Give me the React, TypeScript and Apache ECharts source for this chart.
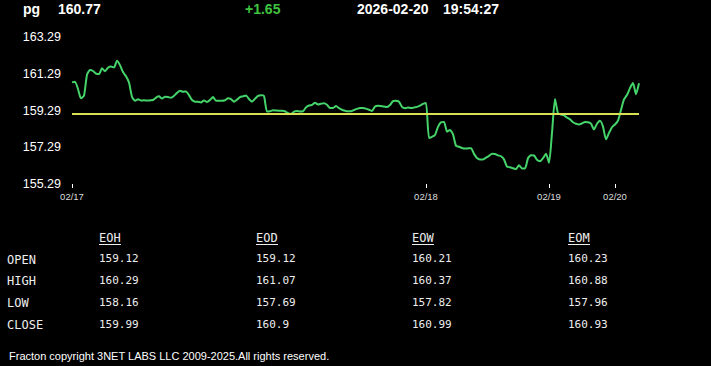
import React, { useEffect, useRef } from 'react';
import * as echarts from 'echarts';

const symbolText = 'pg';
const lastPriceText = '160.77';
const changeText = '+1.65';
const dateText = '2026-02-20';
const timeText = '19:54:27';
const refLevel = 159.12;

const yMin = 155.29;
const yMax = 163.29;
const yStep = 2;

const tickIndices = [0, 118, 159, 181];
const tickLabels = ['02/17', '02/18', '02/19', '02/20'];

const prices = [
  160.82, 160.86, 160.46, 159.95, 160.10, 161.24, 161.49, 161.44, 161.30, 161.27,
  161.59, 161.43, 161.62, 161.68, 161.63, 162.00, 161.76, 161.38, 161.15, 160.81,
  160.04, 159.82, 159.90, 159.83, 159.85, 159.83, 159.84, 159.86, 159.99, 160.06,
  159.94, 160.04, 160.02, 159.98, 160.09, 160.25, 160.36, 160.31, 160.33, 160.13,
  159.86, 159.77, 159.76, 159.73, 159.84, 159.75, 159.86, 160.02, 159.82, 159.82,
  159.82, 159.85, 159.95, 159.91, 159.77, 159.88, 160.02, 160.06, 160.11, 159.91,
  159.77, 159.93, 160.08, 160.12, 160.08, 159.23, 159.25, 159.30, 159.29, 159.28,
  159.28, 159.25, 159.14, 159.10, 159.23, 159.26, 159.24, 159.25, 159.46, 159.56,
  159.60, 159.71, 159.62, 159.66, 159.69, 159.60, 159.43, 159.43, 159.53, 159.42,
  159.33, 159.28, 159.25, 159.25, 159.32, 159.38, 159.43, 159.43, 159.39, 159.33,
  159.26, 159.51, 159.55, 159.53, 159.51, 159.48, 159.59, 159.80, 159.82, 159.77,
  159.49, 159.41, 159.46, 159.42, 159.45, 159.49, 159.56, 159.65, 159.70, 157.80,
  157.86, 157.96, 158.40, 158.65, 158.67, 158.14, 158.23, 157.99, 157.37, 157.32,
  157.25, 157.22, 157.23, 157.24, 156.93, 156.70, 156.63, 156.63, 156.72, 156.82,
  156.93, 156.92, 156.85, 156.80, 156.63, 156.24, 156.20, 156.15, 156.10, 156.31,
  156.14, 156.14, 156.69, 156.85, 156.84, 156.61, 156.53, 156.70, 156.93, 156.44,
  158.07, 159.91, 159.14, 159.07, 159.02, 158.91, 158.81, 158.65, 158.57, 158.53,
  158.59, 158.67, 158.65, 158.57, 158.26, 158.57, 158.73, 158.41, 157.72, 158.07,
  158.38, 158.53, 158.74, 159.32, 159.89, 160.13, 160.51, 160.78, 160.18, 160.77,
];

const tableCols = ['EOH', 'EOD', 'EOW', 'EOM'];
const tableRows = ['OPEN', 'HIGH', 'LOW', 'CLOSE'];
const eohValues = ['159.12', '160.29', '158.16', '159.99'];
const eodValues = ['159.12', '161.07', '157.69', '160.9'];
const eowValues = ['160.21', '160.37', '157.82', '160.99'];
const eomValues = ['160.23', '160.88', '157.96', '160.93'];
const tableValues = [eohValues, eodValues, eowValues, eomValues];

const footerText = 'Fracton copyright 3NET LABS LLC 2009-2025.All rights reserved.';

const W = 711;
const H = 366;

export default function App() {
  const ref = useRef<HTMLDivElement>(null);

  useEffect(() => {
    document.body.style.margin = '0';
    document.body.style.background = '#000';
    if (!ref.current) return;
    const chart = echarts.init(ref.current, undefined, { renderer: 'svg' });

    const categories = prices.map((_, i) => String(i));
    const tickSet = new Set(tickIndices);
    const labelAt: Record<number, string> = {};
    tickIndices.forEach((ti, k) => (labelAt[ti] = tickLabels[k]));

    const headerFont = 'bold 14px "Liberation Sans", Arial, sans-serif';
    const monoLabel = '12px "DejaVu Sans Mono", monospace';
    const monoValue = '11px "DejaVu Sans Mono", monospace';

    const colX = [99, 256, 412, 568];
    const headerY = 238;
    const rowLabelY = [259.5, 281, 303, 325];
    const rowValueY = [258, 280, 302, 324];

    const graphic: any[] = [
      { type: 'text', x: 23, y: 9, style: { text: symbolText, font: headerFont, fill: '#fff', verticalAlign: 'middle' } },
      { type: 'text', x: 58, y: 9, style: { text: lastPriceText, font: headerFont, fill: '#fff', verticalAlign: 'middle' } },
      { type: 'text', x: 245, y: 9, style: { text: changeText, font: headerFont, fill: '#3fc43f', verticalAlign: 'middle' } },
      { type: 'text', x: 357, y: 9, style: { text: dateText, font: headerFont, fill: '#fff', verticalAlign: 'middle' } },
      { type: 'text', x: 443, y: 9, style: { text: timeText, font: headerFont, fill: '#fff', verticalAlign: 'middle' } },
    ];

    tableCols.forEach((c, ci) => {
      graphic.push({ type: 'text', x: colX[ci], y: headerY, style: { text: c, font: monoLabel, fill: '#eee', verticalAlign: 'middle' } });
      graphic.push({ type: 'line', shape: { x1: colX[ci], y1: 244.5, x2: colX[ci] + 22, y2: 244.5 }, style: { stroke: '#eee', lineWidth: 1 } });
      tableValues[ci].forEach((v, ri) => {
        graphic.push({ type: 'text', x: colX[ci], y: rowValueY[ri], style: { text: v, font: monoValue, fill: '#eee', verticalAlign: 'middle' } });
      });
    });
    tableRows.forEach((r, ri) => {
      graphic.push({ type: 'text', x: 7, y: rowLabelY[ri], style: { text: r, font: monoLabel, fill: '#eee', verticalAlign: 'middle' } });
    });
    graphic.push({ type: 'text', x: 9, y: 355.5, style: { text: footerText, font: '11px "Liberation Sans", Arial, sans-serif', fill: '#fff', verticalAlign: 'middle' } });

    chart.setOption({
      animation: false,
      backgroundColor: '#000',
      grid: { left: 72, right: 72, top: 37, bottom: 182, containLabel: false },
      xAxis: {
        type: 'category',
        data: categories,
        boundaryGap: false,
        axisLine: { show: false },
        axisTick: {
          show: true,
          length: 4,
          interval: (idx: number) => tickSet.has(idx),
          lineStyle: { color: '#fff', width: 1 },
        },
        axisLabel: {
          show: true,
          interval: (idx: number) => tickSet.has(idx),
          formatter: (_v: string, idx: number) => labelAt[idx] || '',
          color: '#ddd',
          fontSize: 9.5,
          fontFamily: '"Liberation Sans", Arial, sans-serif',
          margin: 7,
        },
        splitLine: { show: false },
      },
      yAxis: {
        type: 'value',
        min: yMin,
        max: yMax,
        interval: yStep,
        axisLine: { show: false },
        axisTick: { show: false },
        splitLine: { show: false },
        axisLabel: {
          color: '#fff',
          fontSize: 12.5,
          fontFamily: '"Liberation Sans", Arial, sans-serif',
          margin: 11,
          formatter: (v: number) => v.toFixed(2),
        },
      },
      series: [
        {
          type: 'line',
          data: prices,
          showSymbol: false,
          smooth: 0.2,
          lineStyle: { color: '#45d46a', width: 2 },
          markLine: {
            silent: true,
            symbol: ['none', 'none'],
            label: { show: false },
            lineStyle: { color: '#d8df55', width: 2, type: 'solid' },
            data: [{ yAxis: refLevel }],
          },
          z: 3,
        },
      ],
      graphic,
    });

    return () => chart.dispose();
  }, []);

  return <div ref={ref} style={{ width: W, height: H, background: '#000' }} />;
}
